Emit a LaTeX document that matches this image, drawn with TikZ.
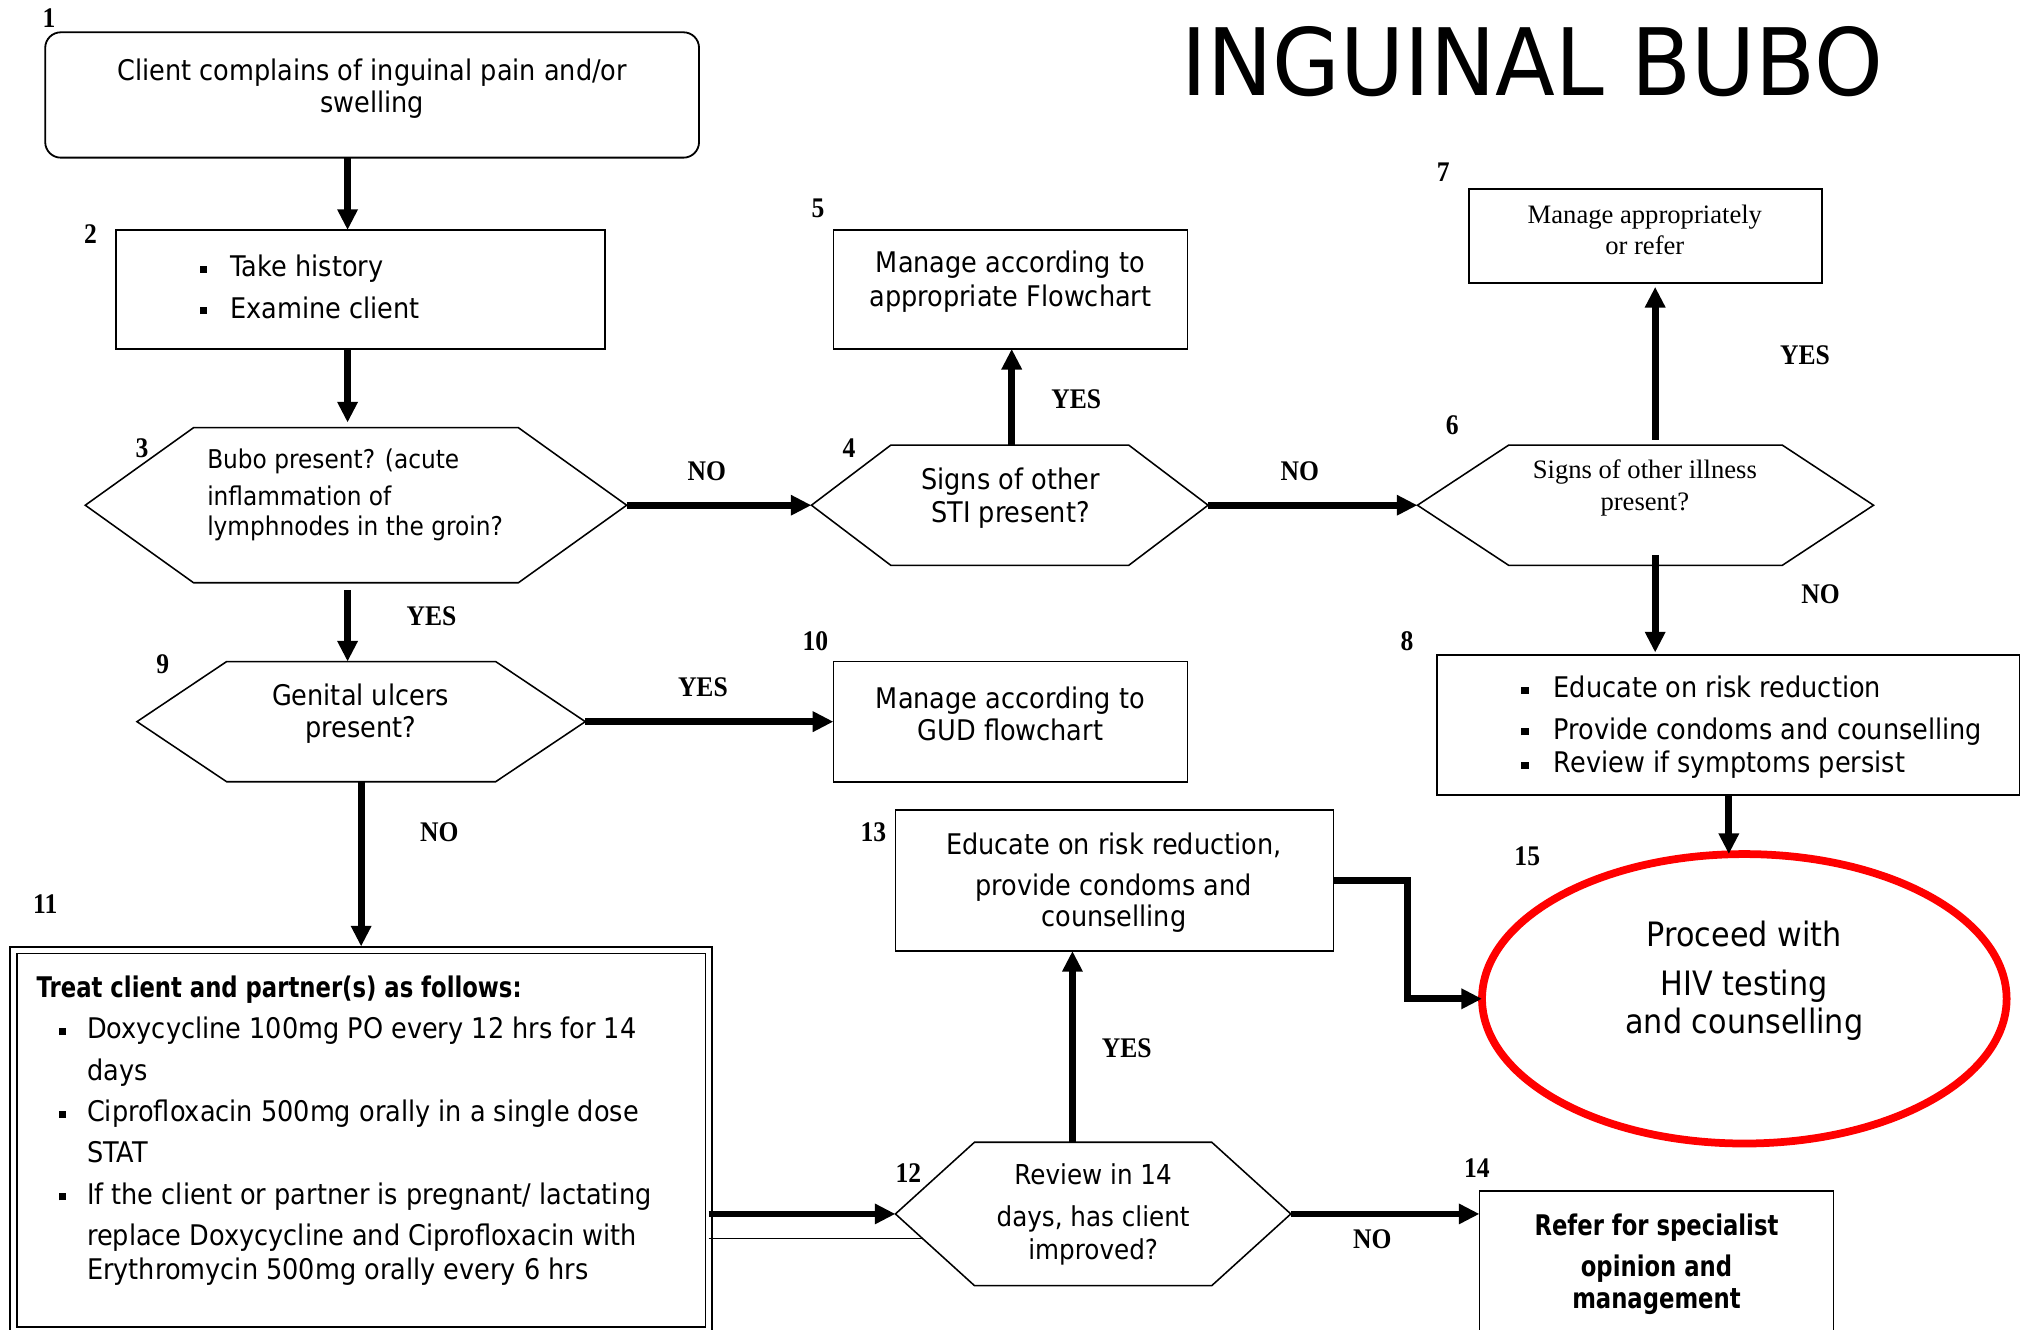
\documentclass[tikz,border=0pt]{standalone}
\usepackage{fontspec}
\setmainfont{DejaVu Sans}
\newfontfamily\bodyfont{DejaVu Sans}[FakeStretch=0.9]
\newfontfamily\bodybold{DejaVu Sans Bold}[FakeStretch=0.8]
\newfontfamily\timesfont{Liberation Serif}
\newfontfamily\numfont{Liberation Serif Bold}[FakeStretch=0.9]
\newfontfamily\titlefont{DejaVu Sans}[FakeStretch=0.94]
\usetikzlibrary{arrows.meta,calc,shapes.geometric}

% small square bullet
\newcommand\sqb{\rule[0.25ex]{2.8pt}{2.8pt}}
% flat-topped hexagon drawn on the frame of an empty node
\newcommand\hexagonof[1]{%
  \draw[hexline] (#1.west) -- ($(#1.north west)!0.2!(#1.north east)$)
    -- ($(#1.north west)!0.8!(#1.north east)$) -- (#1.east)
    -- ($(#1.south west)!0.8!(#1.south east)$)
    -- ($(#1.south west)!0.2!(#1.south east)$) -- cycle;}

\begin{document}
\begin{tikzpicture}[x=0.5pt,y=-0.5pt,
  box/.style={draw,line width=0.7pt,inner sep=0pt,outer sep=0pt},
  hexnode/.style={inner sep=0pt,outer sep=0pt},
  hexline/.style={line width=0.6pt},
  txt/.style={inner sep=0pt,align=center,font=\bodyfont\fontsize{11}{12.5}\selectfont},
  serif/.style={inner sep=0pt,align=center,font=\timesfont\fontsize{10.3}{12}\selectfont},
  num/.style={inner sep=0pt,font=\numfont\fontsize{11}{11}\selectfont},
  arr/.style={line width=2.6pt,-{Triangle[length=8pt,width=7.5pt]}},
]
\useasboundingbox (0,0) rectangle (1568,1029);
\clip (0,0) rectangle (1568,1029);
\fill[white] (0,0) rectangle (1568,1029);

% title
\node[inner sep=0pt,font=\titlefont\fontsize{36}{40}\selectfont] (title) at (1186,48) {INGUINAL BUBO};

% column guides for vertical connectors
\coordinate (c269) at (269,0);
\coordinate (c783) at (783,0);
\coordinate (c1281) at (1281,0);
\coordinate (c1338) at (1338,0);
\coordinate (c830) at (830,0);

% ---- shapes ----
\node[box,rounded corners=6pt,minimum width=253pt,minimum height=48.5pt] (b1) at (288,73.5) {};
\node[box,minimum width=189pt,minimum height=46pt] (b2) at (279,224) {};
\node[hexnode,minimum width=209.5pt,minimum height=60pt] (h3) at (275.5,391) {};
\node[hexnode,minimum width=153.5pt,minimum height=46.5pt] (h4) at (781.5,391) {};
\node[box,minimum width=137pt,minimum height=46pt] (b5) at (782,224) {};
\node[hexnode,minimum width=176.5pt,minimum height=46.5pt] (h6) at (1273.5,391) {};
\node[box,minimum width=136.5pt,minimum height=36.5pt] (b7) at (1273.5,182.5) {};
\node[box,minimum width=225.5pt,minimum height=54pt] (b8) at (1337.5,561) {};
\node[hexnode,minimum width=173.5pt,minimum height=46.5pt] (h9) at (279.5,558.5) {};
\node[box,minimum width=137pt,minimum height=46.5pt] (b10) at (782,558.5) {};
\node[draw,double,line width=0.6pt,double distance=2pt,inner sep=0pt,outer sep=0pt,
      minimum width=269pt,minimum height=147pt] (b11) at (279.5,882.5) {};
\node[hexnode,minimum width=153pt,minimum height=55.5pt] (h12) at (846,939.5) {};
\node[box,minimum width=169.5pt,minimum height=54.5pt] (b13) at (862.5,681.5) {};
\node[box,minimum width=137pt,minimum height=61.5pt] (b14) at (1282,983.5) {};
\node[ellipse,draw=red,line width=3pt,inner sep=0pt,outer sep=0pt,
      minimum width=203pt,minimum height=112pt] (e15) at (1350,773) {};

% thin line between the treatment box and the review hexagon
\coordinate (h12bl) at ($(h12.south west)!0.2!(h12.south east)$);
\coordinate (h12thin) at ($(h12.west)!0.34!(h12bl)$);
\draw[line width=0.5pt] (h12thin -| b11.east) -- (h12thin);

\hexagonof{h3}
\hexagonof{h4}
\hexagonof{h6}
\hexagonof{h9}
\hexagonof{h12}

% ---- texts ----
\node[txt] (t1) at (288,68.5) {Client complains of inguinal pain and/or\\swelling};
\node[txt,align=left,anchor=west,font=\bodyfont\fontsize{11}{16}\selectfont] (t2) at (154,222)
  {\makebox[12pt][l]{\sqb}Take history\\\makebox[12pt][l]{\sqb}Examine client};
\node[txt,align=left,anchor=west,font=\bodyfont\fontsize{10}{11.5}\selectfont] (t3) at (160,383)
  {Bubo present? (acute\\[3pt]inflammation of\\lymphnodes in the groin?};
\node[txt] (t4) at (782,385.5) {Signs of other\\STI present?};
\node[txt,font=\bodyfont\fontsize{11}{13}\selectfont] (t5) at (782,218) {Manage according to\\appropriate Flowchart};
\node[serif,font=\timesfont\fontsize{10.3}{12.5}\selectfont] (t6) at (1273,377.5) {Signs of other illness\\present?};
\node[serif] (t7) at (1273,178) {Manage appropriately\\or refer};
\node[txt,align=left,anchor=west,font=\bodyfont\fontsize{11}{13}\selectfont] (t8) at (1177,563)
  {\makebox[12.5pt][l]{\sqb}Educate on risk reduction\\[3pt]\makebox[12.5pt][l]{\sqb}Provide condoms and counselling\\\makebox[12.5pt][l]{\sqb}Review if symptoms persist};
\node[txt] (t9) at (279,552.5) {Genital ulcers\\present?};
\node[txt] (t10) at (782,552.5) {Manage according to\\GUD flowchart};
\node[txt,align=left,anchor=west,font=\bodyfont\fontsize{11}{16}\selectfont] (t11) at (28,875)
  {{\bodybold Treat client and partner(s) as follows:}\\
   \hspace*{8.5pt}\makebox[11pt][l]{\sqb}Doxycycline 100mg PO every 12 hrs for 14\\
   \hspace*{19.5pt}days\\
   \hspace*{8.5pt}\makebox[11pt][l]{\sqb}Ciprofloxacin 500mg orally in a single dose\\
   \hspace*{19.5pt}STAT\\
   \hspace*{8.5pt}\makebox[11pt][l]{\sqb}If the client or partner is pregnant/ lactating\\
   \hspace*{19.5pt}replace Doxycycline and Ciprofloxacin with\\[-3pt]
   \hspace*{19.5pt}Erythromycin 500mg orally every 6 hrs};
\node[txt,font=\bodyfont\fontsize{10.6}{13}\selectfont] (t12) at (846,940) {Review in 14\\[3pt]days, has client\\improved?};
\node[txt,font=\bodyfont\fontsize{11}{12}\selectfont] (t13) at (862,683) {Educate on risk reduction,\\[4pt]provide condoms and\\counselling};
\node[txt,font=\bodybold\fontsize{11}{12.5}\selectfont] (t14) at (1282,978.5) {Refer for specialist\\[3.5pt]opinion and\\management};
\node[txt,font=\bodyfont\fontsize{13}{15}\selectfont] (t15) at (1350,759) {Proceed with\\[4pt]HIV testing\\and counselling};

% ---- step numbers ----
\node[num] (n1) at (38,14) {1};
\node[num] (n2) at (70,181) {2};
\node[num] (n3) at (110,347) {3};
\node[num] (n4) at (657,347) {4};
\node[num] (n5) at (633,161) {5};
\node[num] (n6) at (1124,329) {6};
\node[num] (n7) at (1117,133) {7};
\node[num] (n8) at (1089,496) {8};
\node[num] (n9) at (126,514) {9};
\node[num] (n10) at (631,496) {10};
\node[num] (n11) at (35,700) {11};
\node[num] (n12) at (703,908) {12};
\node[num] (n13) at (676,644) {13};
\node[num] (n14) at (1143,904) {14};
\node[num] (n15) at (1182,663) {15};

% ---- answer labels ----
\node[num] (yes39) at (334,477) {YES};
\node[num] (no34) at (547,365) {NO};
\node[num] (yes45) at (833,309) {YES};
\node[num] (no46) at (1006,365) {NO};
\node[num] (yes67) at (1397,275) {YES};
\node[num] (no68) at (1409,460) {NO};
\node[num] (yes910) at (544,532) {YES};
\node[num] (no911) at (340,644) {NO};
\node[num] (yes1213) at (872,811) {YES};
\node[num] (no1214) at (1062,959) {NO};

% ---- connectors ----
\draw[arr] (b1.south -| c269) -- (b2.north -| c269);
\draw[arr,shorten >=2pt] (b2.south -| c269) -- (h3.north -| c269);
\draw[arr] (h3.east) -- (h4.west);
\draw[arr] (h4.north -| c783) -- (b5.south -| c783);
\draw[arr] (h4.east) -- (h6.west);
\draw[arr,shorten <=2pt,shorten >=1.5pt] (h6.north -| c1281) -- (b7.south -| c1281);
\draw[arr,shorten <=-4pt,shorten >=1pt] (h6.south -| c1281) -- (b8.north -| c1281);
\draw[arr] (b8.south -| c1338) -- (e15.north -| c1338);
\draw[arr,shorten <=3pt] (h3.south -| c269) -- (h9.north -| c269);
\draw[arr] (h9.east) -- (b10.west |- h9.east);
\draw[arr,shorten >=1.5pt] (h9.south) -- (b11.north -| h9.south);
\draw[arr] (b11.east |- h12.west) -- (h12.west);
\draw[arr] (h12.north -| c830) -- (b13.south -| c830);
\draw[arr] (h12.east) -- (b14.west |- h12.east);
\draw[arr,line join=miter] (b13.east) -| ($(b13.east)!0.5!(e15.west)$) |- (e15.west);
\end{tikzpicture}
\end{document}
